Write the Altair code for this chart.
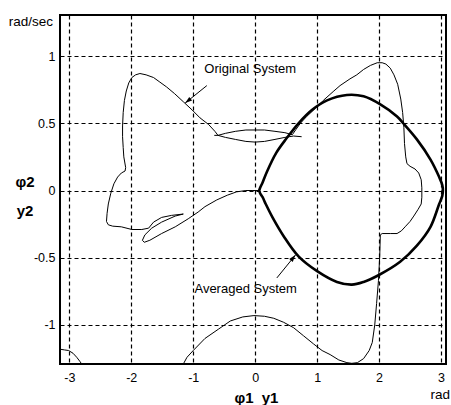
import altair as alt
import numpy as np
import pandas as pd

# Axis ranges and plot-area size (pixels)
X_DOMAIN = [-3.15, 3.08]
Y_DOMAIN = [-1.29, 1.305]
W, H = 386, 349
X_TICKS = [-3, -2, -1, 0, 1, 2, 3]
Y_TICKS = [-1, -0.5, 0, 0.5, 1]

# Original system: arc entering the lower-left corner
corner_x = [-3.15, -3.08, -3.01, -2.94, -2.88, -2.83, -2.80]
corner_y = [-1.18, -1.185, -1.19, -1.21, -1.24, -1.27, -1.29]

# Original system: lower sweep, right lobe, large right hump and the small lens
main_x = [-1.16, -1.10, -1.00, -0.81, -0.59, -0.40, -0.20, -0.02, 0.15, 0.30, 0.46,
          0.62, 0.78, 0.94, 1.08, 1.21, 1.35, 1.48, 1.56, 1.65, 1.75, 1.84, 1.89,
          1.93, 1.96, 1.99, 2.01, 2.02, 2.05, 2.18, 2.29, 2.36, 2.42, 2.50, 2.56,
          2.63, 2.68, 2.69, 2.69, 2.68, 2.64, 2.58, 2.50, 2.45, 2.43, 2.41, 2.40,
          2.38, 2.35, 2.30, 2.24, 2.18, 2.11, 2.05, 1.97, 1.86, 1.75, 1.64, 1.53,
          1.37, 1.27, 1.10, 0.97, 0.83, 0.73, 0.66, 0.60,
          0.48, 0.32, 0.15, 0.00, -0.15, -0.32, -0.48, -0.60,
          -0.48, -0.32, -0.15, 0.00, 0.15, 0.32, 0.48, 0.62, 0.75]
main_y = [-1.29, -1.24, -1.19, -1.10, -1.03, -0.97, -0.94, -0.93, -0.935, -0.95, -0.98,
          -1.02, -1.08, -1.14, -1.19, -1.22, -1.26, -1.28, -1.285, -1.28, -1.25, -1.19, -1.13,
          -1.00, -0.84, -0.67, -0.49, -0.33, -0.32, -0.32, -0.32, -0.30, -0.27, -0.23, -0.19,
          -0.14, -0.10, -0.05, 0.02, 0.08, 0.13, 0.16, 0.18, 0.20, 0.25, 0.35, 0.47,
          0.58, 0.68, 0.79, 0.86, 0.91, 0.94, 0.95, 0.95, 0.93, 0.90, 0.86, 0.83,
          0.78, 0.74, 0.67, 0.61, 0.55, 0.50, 0.455, 0.415,
          0.43, 0.44, 0.45, 0.45, 0.45, 0.44, 0.425, 0.41,
          0.395, 0.38, 0.365, 0.36, 0.365, 0.38, 0.395, 0.405, 0.40]

# Original system: left hump, notch, small loop and the run back to the origin
left_x = [-0.66, -0.60, -0.65, -0.75, -0.89, -1.02, -1.16, -1.30, -1.43, -1.55, -1.64,
          -1.76, -1.86, -1.93, -1.99, -2.04, -2.08, -2.11, -2.13, -2.14, -2.14, -2.13,
          -2.12, -2.09, -2.10, -2.16, -2.22, -2.28, -2.33, -2.37, -2.39, -2.40, -2.37,
          -2.30, -2.16, -1.99, -1.83, -1.72, -1.64, -1.51, -1.35, -1.16, -1.29, -1.51,
          -1.67, -1.78, -1.82, -1.79, -1.70, -1.51, -1.29, -1.08, -0.92, -0.81, -0.62,
          -0.45, -0.30, -0.15, -0.05, 0.07]
left_y = [0.41, 0.41, 0.44, 0.49, 0.54, 0.60, 0.66, 0.72, 0.77, 0.81, 0.84,
          0.86, 0.87, 0.86, 0.84, 0.80, 0.74, 0.67, 0.58, 0.48, 0.40, 0.32,
          0.25, 0.17, 0.145, 0.13, 0.10, 0.05, -0.02, -0.10, -0.17, -0.23, -0.255,
          -0.265, -0.27, -0.29, -0.29, -0.28, -0.235, -0.20, -0.185, -0.175, -0.19, -0.235,
          -0.28, -0.33, -0.37, -0.385, -0.37, -0.32, -0.27, -0.21, -0.16, -0.12, -0.07,
          -0.035, -0.01, 0.0, 0.0, 0.0]

# Averaged system: closed orbit
avg_x = [0.065, 0.08, 0.12, 0.19, 0.34, 0.51, 0.70, 0.92, 1.16, 1.48, 1.75, 2.02, 2.29,
         2.39, 2.61, 2.83, 2.97, 3.02, 3.03, 3.02, 2.97, 2.83, 2.61, 2.34, 1.99, 1.75,
         1.56, 1.32, 1.00, 0.70, 0.46, 0.28, 0.17, 0.12, 0.08, 0.065]
avg_y = [0.0, 0.02, 0.06, 0.14, 0.28, 0.39, 0.50, 0.60, 0.67, 0.71, 0.70, 0.64, 0.55,
         0.50, 0.38, 0.23, 0.10, 0.04, 0.0, -0.04, -0.10, -0.27, -0.41, -0.53, -0.63,
         -0.68, -0.70, -0.68, -0.60, -0.49, -0.34, -0.20, -0.10, -0.05, -0.02, 0.0]

# Callouts: label anchor and arrow (start -> tip)
labels = ["Original System", "Averaged System"]
label_x = [-0.82, -0.98]
label_y = [0.90, -0.73]
arrow_x0 = [-0.78, 0.35]
arrow_y0 = [0.78, -0.65]
arrow_x1 = [-1.13, 0.65]
arrow_y1 = [0.65, -0.48]

FONT = "Liberation Sans"


def path(xs, ys, name):
    return pd.DataFrame({"x": xs, "y": ys, "seg": name, "i": np.arange(len(xs))})


thin = pd.concat([path(corner_x, corner_y, "corner"),
                  path(main_x, main_y, "main"),
                  path(left_x, left_y, "left")], ignore_index=True)
thick = path(avg_x, avg_y, "avg")

# arrowhead rotation (degrees clockwise from up) in screen space
sx = W / (X_DOMAIN[1] - X_DOMAIN[0])
sy = H / (Y_DOMAIN[1] - Y_DOMAIN[0])
dx = (np.array(arrow_x1) - np.array(arrow_x0)) * sx
dy = -(np.array(arrow_y1) - np.array(arrow_y0)) * sy
angles = (np.degrees(np.arctan2(dx, -dy)) + 360) % 360

notes = pd.DataFrame({"label": labels, "lx": label_x, "ly": label_y,
                      "x": arrow_x0, "y": arrow_y0, "x2": arrow_x1, "y2": arrow_y1,
                      "ang": angles})

xscale = alt.Scale(domain=X_DOMAIN, nice=False, zero=False)
yscale = alt.Scale(domain=Y_DOMAIN, nice=False, zero=False)
common_axis = dict(title=None, domain=False, ticks=False, grid=True, format="~g",
                   gridColor="black", gridDash=[4, 3], gridWidth=1.2, gridOpacity=1,
                   labelFont=FONT, labelFontSize=12.5, labelColor="black",
                   labelExpr="replace(datum.label, '\u2212', '-')")
xaxis = alt.Axis(values=X_TICKS, labelPadding=7, **common_axis)
yaxis = alt.Axis(values=Y_TICKS, labelPadding=5, **common_axis)

X = alt.X("x:Q", scale=xscale, axis=xaxis)
Y = alt.Y("y:Q", scale=yscale, axis=yaxis)

thin_layer = alt.Chart(thin).mark_line(color="black", strokeWidth=1, clip=True).encode(
    x=X, y=Y, detail="seg:N", order="i:Q")
thick_layer = alt.Chart(thick).mark_line(color="black", strokeWidth=2.6, clip=True,
                                          interpolate="catmull-rom").encode(
    x=X, y=Y, order="i:Q")

arrow_lines = alt.Chart(notes).mark_rule(color="black", strokeWidth=1).encode(
    x=X, y=Y, x2="x2:Q", y2="y2:Q")
arrow_heads = alt.Chart(notes).mark_point(
    shape="M0,0 L-0.32,1 L0.32,1 Z", filled=True, color="black", opacity=1, size=200
).encode(x=alt.X("x2:Q", scale=xscale, axis=xaxis),
         y=alt.Y("y2:Q", scale=yscale, axis=yaxis),
         angle=alt.Angle("ang:Q", scale=None))
note_text = alt.Chart(notes).mark_text(
    align="left", baseline="middle", font=FONT, fontSize=13, color="black"
).encode(x=alt.X("lx:Q", scale=xscale, axis=xaxis),
         y=alt.Y("ly:Q", scale=yscale, axis=yaxis), text="label:N")

# axis captions (pixel offsets from the plot origin)
caption_top = alt.Chart(pd.DataFrame({"t": ["rad/sec"]})).mark_text(
    align="right", baseline="middle", font=FONT, fontSize=13.5, color="black"
).encode(x=alt.value(-7), y=alt.value(7), text="t:N")
caption_rad = alt.Chart(pd.DataFrame({"t": ["rad"]})).mark_text(
    align="right", baseline="middle", font=FONT, fontSize=13.5, color="black"
).encode(x=alt.value(390), y=alt.value(380), text="t:N")
ytitle = alt.Chart(pd.DataFrame({"t": ["\u03c62", "y2"], "py": [167, 196]})).mark_text(
    align="center", baseline="middle", font=FONT, fontSize=15, fontWeight="bold",
    color="black"
).encode(x=alt.value(-35), y=alt.value(0), yOffset=alt.YOffset("py:Q", scale=None),
         text="t:N")
xtitle = alt.Chart(pd.DataFrame({"t": ["\u03c61", "y1"], "px": [184, 210]})).mark_text(
    align="center", baseline="middle", font=FONT, fontSize=15, fontWeight="bold",
    color="black"
).encode(x=alt.value(0), xOffset=alt.XOffset("px:Q", scale=None), y=alt.value(383),
         text="t:N")

chart = alt.layer(
    thin_layer, thick_layer, arrow_lines, arrow_heads, note_text,
    caption_top, caption_rad, ytitle, xtitle
).properties(
    width=W, height=H,
    autosize=alt.AutoSizeParams(type="none"),
    padding={"left": 60, "top": 15, "right": 5, "bottom": 41},
    background="white",
).configure_view(stroke="black", strokeWidth=2)

chart.save("out.html", embed_options={"renderer": "svg", "actions": False})
